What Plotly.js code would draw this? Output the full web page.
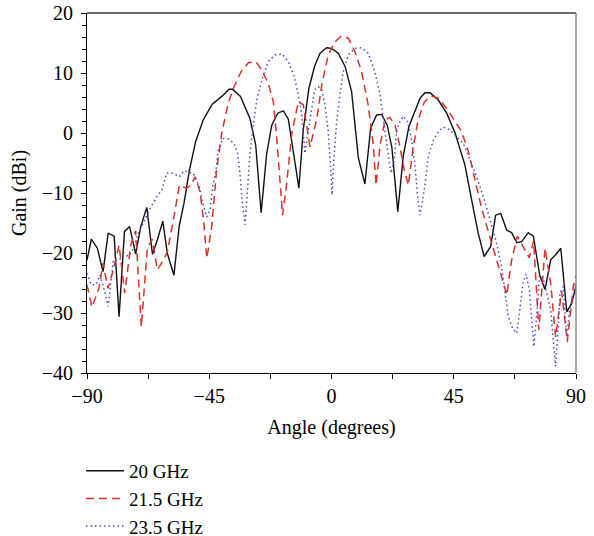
<!DOCTYPE html>
<html>
<head>
<meta charset="utf-8">
<script src="https://cdn.plot.ly/plotly-3.0.1.min.js"></script>
<style>html,body{margin:0;padding:0;background:#fff;}#chart{width:594px;height:536px;}</style>
</head>
<body>
<div id="chart"></div>
<script>
// 20 GHz
const angle20 = [-90, -88.4, -86.2, -84.1, -82.2, -80, -78.2, -76.2, -74.3, -72.1, -70.2, -68, -65.9, -64.1, -62.1, -60.4, -58, -56.1, -54.3, -52.3, -50, -47.2, -43.9, -40.4, -37.7, -36.4, -33.5, -30, -27.9, -25.9, -23.9, -22, -19.8, -17.7, -15.9, -14, -12, -10.4, -8.3, -6.1, -4.2, -1.8, 0, 2.5, 5, 7.4, 9.9, 12.3, 14.4, 16.6, 18.5, 20.5, 22.2, 24.4, 26.4, 28.5, 30.7, 32.6, 34.4, 36.3, 39.3, 42.4, 45.5, 49.1, 51.6, 54, 56.2, 58.6, 60.4, 62.3, 64.5, 66.3, 68.2, 70, 72.4, 74.3, 76.7, 78.6, 80.7, 82.5, 84.4, 86.6, 88.4, 90];
const gain20 = [-21.2, -17.7, -19.2, -23.1, -16.7, -17.2, -30.6, -16.4, -15.6, -20.2, -15.6, -12.4, -20.2, -17.8, -14.7, -20.1, -23.7, -15.6, -11.7, -6.2, -1.4, 2.2, 4.8, 6.1, 7.3, 7.3, 6.1, 2.4, -2, -13.3, -3.6, 1.3, 3.3, 3.7, 2.3, -3.4, -9.2, 0.5, 7.5, 11.3, 13.3, 14.2, 14.1, 13.3, 11.1, 6.9, -4.2, -8.5, 0.8, 3, 3.1, 1.3, -2.3, -13.1, -3.9, 1.1, 3.8, 5.8, 6.7, 6.7, 5.5, 3.3, 0, -5.3, -11.2, -16.7, -20.6, -18.9, -13.7, -13.4, -16.2, -16.6, -18.3, -18.1, -16.6, -17.2, -23.8, -26.1, -21.1, -20.3, -19.2, -29.8, -28.4, -25.5];

// 21.5 GHz
const angle21 = [-90, -88.2, -85.6, -84.1, -82.3, -80.3, -78.2, -76.1, -73.9, -72.1, -70, -67.8, -66, -64.1, -62, -60.4, -58.2, -56, -53.3, -51.8, -50.2, -48.4, -47.2, -45.9, -44.1, -42.3, -40.4, -38, -35.9, -33.3, -30.6, -27.9, -25.7, -23.3, -21.4, -20.2, -19, -18, -16.5, -14.6, -12.2, -10.4, -9.1, -7.9, -5.4, -3.6, -1.2, 1.3, 3.7, 6.2, 8.6, 11.1, 13.5, 15.4, 16.4, 17.9, 19.7, 21.5, 23.4, 25.2, 26.8, 28.3, 30.1, 31.9, 34.2, 36.6, 39.3, 42.4, 45.5, 47.9, 50.4, 52.8, 55.3, 57.7, 60.2, 62.6, 64.5, 66.3, 68.4, 70.6, 72.8, 74.4, 76.3, 78.6, 80.7, 82.5, 84.7, 86.8, 89, 90];
const gain21 = [-25.3, -29, -25.9, -21.7, -25.9, -22.8, -18.7, -26.7, -18.7, -16.3, -32.3, -19.2, -17.7, -22.8, -21.3, -19.8, -14.5, -8.7, -9.2, -8.7, -7.3, -9.8, -14, -20.9, -15.6, -6.2, 0, 5, 7.7, 10.2, 11.7, 11.9, 10.5, 8.3, 5.2, -0.6, -7.8, -13.7, -8.4, 0, 5.2, 4.7, 1.1, -2.3, 2.4, 8, 13, 15.2, 16.2, 15.8, 13.6, 10.2, 4.7, -2, -8.7, -2, 2.2, 2.6, 1.3, -2.3, -6.2, -8.7, -2.3, 2.2, 5.2, 6.2, 5.8, 4.1, 1.9, 0.2, -3.1, -7.8, -12.6, -16.4, -20.1, -23.9, -27, -21.2, -17.2, -18.9, -20.8, -18, -32.8, -19.2, -25.1, -34, -26.4, -34.8, -25.6, -23.7];

// 23.5 GHz
const angle23 = [-90, -88.4, -86.8, -85.2, -83.5, -82.2, -80.3, -78.2, -76.4, -74.5, -72.7, -70.9, -69, -66.8, -64.3, -62.4, -60.7, -58.2, -56, -54.3, -50.9, -48.7, -47.4, -45.9, -44.7, -43.7, -42.5, -41.7, -40, -38, -35.9, -34.6, -33.7, -32.8, -31.8, -30.8, -30, -28.8, -27.5, -25.7, -23.3, -20.8, -18.3, -15.9, -13.7, -12.2, -11, -9.8, -8.5, -7.1, -6.2, -4.8, -3.6, -2.4, -1.2, -0.3, 0.2, 0.9, 1.9, 3.1, 4.3, 6.2, 8.6, 11.1, 13.5, 16, 17.9, 19.7, 20.9, 21.9, 23.1, 24, 25.2, 26.4, 28, 29.5, 30.7, 31.6, 32.6, 33.4, 34.4, 35.6, 37.5, 39.3, 41.1, 43.6, 46.1, 48.5, 51, 53.4, 55.9, 58.3, 60.8, 62.6, 63.8, 65.1, 66.7, 68.2, 69.4, 70.4, 71.6, 72.8, 73.7, 74.5, 75.7, 76.6, 77.9, 79.2, 80.7, 81.6, 82.5, 83.3, 84.1, 85.3, 86.6, 87.6, 88.8, 90];
const gain23 = [-23.4, -25.3, -25.3, -23.7, -26.4, -28.9, -21.2, -21.2, -20.3, -20.5, -19, -16.4, -14.8, -12.6, -10.6, -9.5, -6.7, -6.7, -7.3, -6.3, -6.7, -8.9, -11.7, -14, -12.8, -8.9, -6.2, -2.8, -0.9, -1, -1.7, -3.3, -6.7, -11.7, -15.3, -8.9, -3.4, 1.3, 5.5, 8.8, 11.9, 13, 13.2, 11.9, 9.4, 6.3, 3.3, -3.4, 0.5, 5, 7.2, 7.7, 7.2, 4.7, 0.2, -5.9, -10.3, -4.2, 1.9, 6.3, 10.2, 13, 14.1, 14.2, 13.3, 10.2, 6.3, 0.2, -3.5, -6.7, -4.5, 0.5, 1.9, 2.8, 1.9, -1.2, -5.1, -10.1, -13.7, -11.4, -8.7, -3.9, -1.2, 0.2, 1, 0.5, -0.6, -1.7, -4.5, -7.3, -10.6, -14.5, -18.4, -22.3, -26.7, -30.6, -32.6, -33.4, -29.2, -25.2, -23.5, -26, -31, -35.6, -29.5, -23.7, -24.2, -26.7, -29.5, -34.5, -38.9, -33.4, -26.7, -25.6, -34, -29.5, -27.3, -25];

const seriesNames = ["20 GHz", "21.5 GHz", "23.5 GHz"];
const xTicks = [-90, -45, 0, 45, 90];
const xTickText = ["\u221290", "\u221245", "0", "45", "90"];
const yTicks = [-40, -30, -20, -10, 0, 10, 20];
const yTickText = ["\u221240", "\u221230", "\u221220", "\u221210", "0", "10", "20"];

const FONT = "Liberation Serif, Times New Roman, serif";

const traces = [
  {x: angle20, y: gain20, name: seriesNames[0], mode: "lines",
   line: {color: "#111111", width: 1.4}},
  {x: angle21, y: gain21, name: seriesNames[1], mode: "lines",
   line: {color: "#e0302a", width: 1.5, dash: "8px,5px"}},
  {x: angle23, y: gain23, name: seriesNames[2], mode: "lines",
   line: {color: "#4b4bc6", width: 1.5, dash: "1.5px,3px"}}
];

const layout = {
  width: 594, height: 536,
  margin: {l: 87, r: 18, t: 13, b: 163, autoexpand: false},
  paper_bgcolor: "#fff", plot_bgcolor: "#fff",
  font: {family: FONT, size: 20, color: "#000"},
  showlegend: true,
  legend: {x: -0.0123, xanchor: "left", y: -0.219, yanchor: "top",
           font: {family: FONT, size: 19, color: "#000"},
           itemwidth: 38, bgcolor: "rgba(0,0,0,0)"},
  xaxis: {
    range: [-90, 90], tickmode: "array", tickvals: xTicks, ticktext: xTickText,
    ticks: "outside", ticklen: 5, tickwidth: 1, tickcolor: "#000",
    minor: {tickmode: "array", tickvals: [-67.5, -22.5, 22.5, 67.5], ticks: "outside", ticklen: 5, tickcolor: "#000"},
    showline: true, linecolor: "#000", linewidth: 1, showgrid: false, zeroline: false,
    tickfont: {family: FONT, size: 20, color: "#000"},
    title: {text: "Angle (degrees)", font: {family: FONT, size: 20, color: "#000"}, standoff: 13}
  },
  yaxis: {
    range: [-40, 20], tickmode: "array", tickvals: yTicks, ticktext: yTickText,
    ticks: "outside", ticklen: 5, tickwidth: 1, tickcolor: "#000",
    minor: {dtick: 2, ticks: "outside", ticklen: 4, tickcolor: "#000"},
    showline: true, linecolor: "#000", linewidth: 1, showgrid: false, zeroline: false,
    ticklabelstandoff: 4,
    tickfont: {family: FONT, size: 20, color: "#000"},
    title: {text: "Gain (dBi)", font: {family: FONT, size: 20, color: "#000"}, standoff: 9}
  },
  shapes: [
    {type: "line", xref: "paper", yref: "paper", x0: 0, x1: 1, y0: 1, y1: 1, line: {color: "#6e6e6e", width: 2}},
    {type: "line", xref: "paper", yref: "paper", x0: 1, x1: 1, y0: 0, y1: 1, line: {color: "#8a8a8a", width: 1.5}}
  ]
};

Plotly.newPlot("chart", traces, layout, {displayModeBar: false, staticPlot: true});
</script>
</body>
</html>
